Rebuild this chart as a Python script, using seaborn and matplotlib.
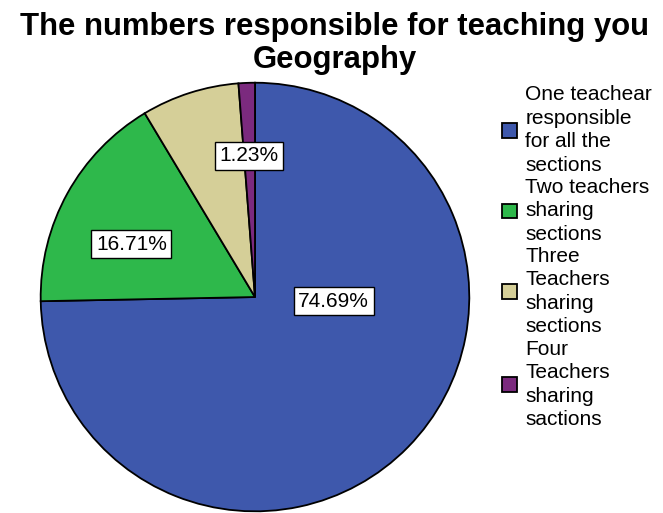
import matplotlib
matplotlib.use("Agg")
import matplotlib.pyplot as plt
import matplotlib.patches as mpatches
import seaborn as sns

# =========================
# Data
# =========================
categories = [
    "One teachear\nresponsible\nfor all the\nsections",
    "Two teachers\nsharing\nsections",
    "Three\nTeachers\nsharing\nsections",
    "Four\nTeachers\nsharing\nsactions",
]
percents = [74.69, 16.71, 7.37, 1.23]
shown_labels = ["74.69%", "16.71%", None, "1.23%"]

# label positions (fraction of radius), as placed in the original
label_pos = [(0.367, -0.02), (-0.577, 0.247), None, (-0.028, 0.66)]

colors = sns.color_palette(["#3e58ac", "#2eb84b", "#d5cf98", "#7b2a7e"])

# =========================
# Plot
# =========================
sns.set_style("white")
plt.rcParams["font.family"] = ["Liberation Sans", "DejaVu Sans"]
plt.rcParams["text.color"] = "black"

fig = plt.figure(figsize=(6.63, 5.13), dpi=100)
ax = fig.add_axes([0.0603, 0.002, 0.6486, 0.838])

wedges, _ = ax.pie(percents, colors=colors, startangle=90, counterclock=False,
                   wedgeprops=dict(edgecolor="black", linewidth=1.3))
ax.set_aspect("equal")
ax.set_xlim(-1.003, 1.003)
ax.set_ylim(-1.003, 1.003)
ax.axis("off")

for lab, pos in zip(shown_labels, label_pos):
    if lab is None:
        continue
    ax.text(pos[0], pos[1], lab, ha="center", va="center", fontsize=15,
            bbox=dict(boxstyle="square,pad=0.22", facecolor="white",
                      edgecolor="black", linewidth=1))

fig.text(0.505, 0.947, "The numbers responsible for teaching you", ha="center",
         va="center", fontsize=22.4, fontweight="bold")
fig.text(0.505, 0.884, "Geography", ha="center", va="center",
         fontsize=22.4, fontweight="bold")

handles = [mpatches.Patch(facecolor=c, edgecolor="black", linewidth=1.3)
           for c in colors]
leg = fig.legend(handles, categories, loc="upper left", bbox_to_anchor=(0.757, 0.834),
                 frameon=False, fontsize=15, handlelength=0.72, handleheight=0.72,
                 handletextpad=0.4, labelspacing=0.15, borderpad=0, borderaxespad=0)
for t in leg.get_texts():
    t.set_linespacing(1.3)

fig.savefig("out.png", dpi=100)
